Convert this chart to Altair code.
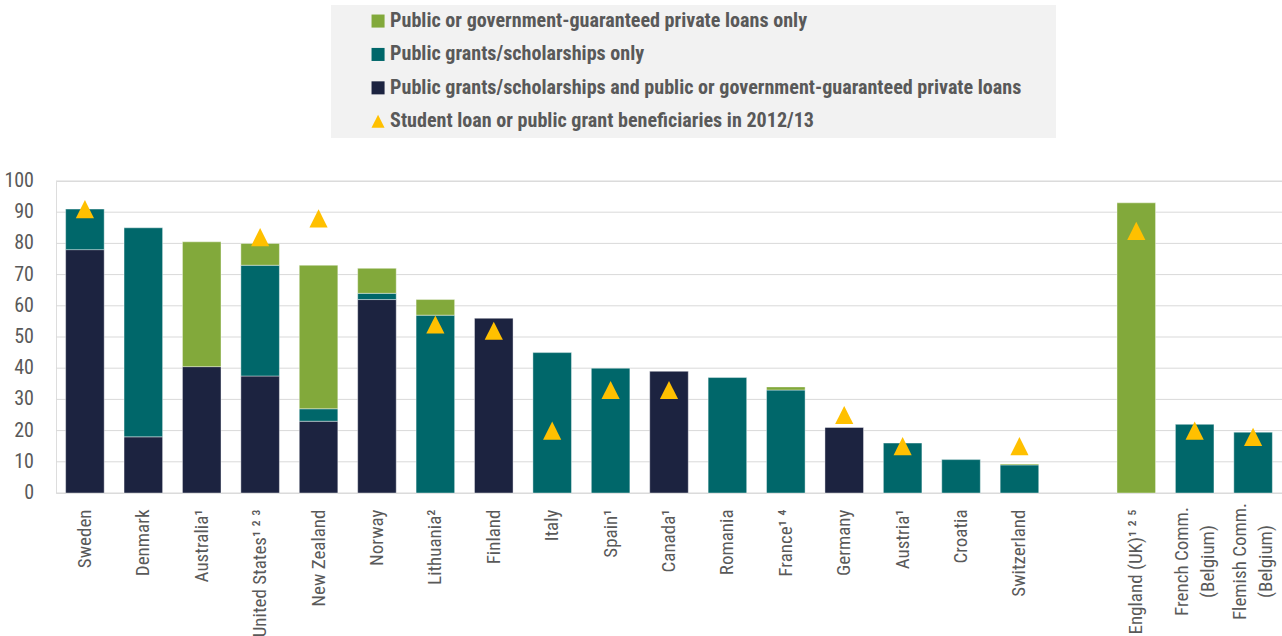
import altair as alt
import pandas as pd

countries = ["Sweden", "Denmark", "Australia¹", "United States¹ ² ³", "New Zealand", "Norway",
             "Lithuania²", "Finland", "Italy", "Spain¹", "Canada¹", "Romania", "France¹ ⁴",
             "Germany", "Austria¹", "Croatia", "Switzerland", " ",
             "England (UK)¹ ² ⁵", "French Comm.|(Belgium)", "Flemish Comm.|(Belgium)"]

series = ["Public or government-guaranteed private loans only",
          "Public grants/scholarships only",
          "Public grants/scholarships and public or government-guaranteed private loans",
          "Student loan or public grant beneficiaries in 2012/13"]
colors = ["#82A93B", "#00676A", "#1C2340", "#FFC000"]

y_ticks = [0, 10, 20, 30, 40, 50, 60, 70, 80, 90, 100]

# None = no value (gap column or no marker)
both = [78, 18, 40.5, 37.5, 23, 62, 0, 56, 0, 0, 39, 0, 0, 21, 0, 0, 0, None, 0, 0, 0]
grants = [13, 67, 0, 35.5, 4, 2, 57, 0, 45, 40, 0, 37, 33, 0, 16, 10.7, 9, None, 0, 22, 19.5]
loans = [0, 0, 40, 7, 46, 8, 5, 0, 0, 0, 0, 0, 1, 0, 0, 0, 0.3, None, 93, 0, 0]
beneficiaries = [91, None, None, 82, 88, None, 54, 52, 20, 33, 33, None, None, 25, 15, None, 15,
                 None, 84, 20, 18]

rows = []
for i, c in enumerate(countries):
    for order, (s, vals) in enumerate([(series[2], both), (series[1], grants), (series[0], loans)]):
        v = vals[i]
        if v:
            rows.append({"country": c, "series": s, "value": v, "order": order})
bars_df = pd.DataFrame(rows)

pts_df = pd.DataFrame([{"country": c, "series": series[3], "value": v}
                       for c, v in zip(countries, beneficiaries) if v is not None])
grid_df = pd.DataFrame({"value": y_ticks})

NARROW = "Liberation Sans Narrow, Roboto Condensed, sans-serif"
W, H = 1226, 312
MULTI = "indexof(datum.value, '|') >= 0"

x_axis = alt.Axis(labelAngle=270, labelExpr="split(datum.label, '|')",
                  labelFont=NARROW, labelFontSize=19, labelColor="#595959",
                  labelPadding={"condition": {"test": MULTI, "value": 68}, "value": 16},
                  labelAlign={"condition": {"test": MULTI, "value": "center"}, "value": "right"},
                  labelLineHeight=26,
                  labelOffset={"condition": {"test": MULTI, "value": -13}, "value": 0},
                  ticks=False, domain=False, labelLimit=300, grid=False)
x_scale = alt.Scale(domain=countries, paddingInner=0.34, paddingOuter=0.165)
y_scale = alt.Scale(domain=[0, 100], nice=False)
# axis kept silent: grid lines and tick labels are drawn from y_ticks below
y_axis = alt.Axis(labels=False, grid=False, domain=False, ticks=False, title=None)

color_scale = alt.Scale(domain=series, range=colors)
shape_scale = alt.Scale(domain=series, range=["square", "square", "square", "M0,-1L1,1L-1,1Z"])

legend = alt.Legend(title=".", titleOrient="right", titleColor="#f2f2f2", titleFontSize=2,
                    titlePadding=28,
                    orient="none", legendX=275, legendY=-176,
                    fillColor="#f2f2f2", padding=6, symbolOffset=31, symbolSize=170,
                    labelFont=NARROW, labelFontWeight="bold", labelFontSize=20.1,
                    labelColor="#595959", labelOffset=2, rowPadding=12.4, labelLimit=1000,
                    symbolStrokeWidth=0)

grid = alt.Chart(grid_df).mark_rule(color="#d9d9d9", strokeWidth=1).encode(
    y=alt.Y("value:Q", scale=y_scale, axis=y_axis, title=None),
    x=alt.value(0), x2=alt.value(W),
)
ylabels = alt.Chart(grid_df).mark_text(
    align="right", baseline="middle", font=NARROW, fontSize=20, color="#595959", dx=-22
).encode(
    y=alt.Y("value:Q", scale=y_scale, axis=y_axis, title=None),
    x=alt.value(0),
    text=alt.Text("value:Q"),
)

bars = alt.Chart(bars_df).mark_bar(stroke="#ffffff", strokeWidth=0.8, strokeOpacity=0.5).encode(
    x=alt.X("country:N", title=None, scale=x_scale, axis=x_axis),
    y=alt.Y("value:Q", stack="zero", title=None, scale=y_scale, axis=y_axis),
    color=alt.Color("series:N", scale=color_scale, legend=legend),
    order=alt.Order("order:Q"),
)

points = alt.Chart(pts_df).mark_point(filled=True, opacity=1, size=330).encode(
    x=alt.X("country:N", title=None, scale=x_scale, axis=x_axis),
    y=alt.Y("value:Q", title=None, scale=y_scale, axis=y_axis),
    color=alt.Color("series:N", scale=color_scale, legend=legend),
    shape=alt.Shape("series:N", scale=shape_scale, legend=legend),
)

chart = alt.layer(grid, ylabels, bars, points).properties(
    width=W, height=H,
    autosize=alt.AutoSizeParams(type="none"),
    padding={"left": 56, "top": 181, "right": 0, "bottom": 143},
).configure_view(stroke=None).configure(font="Open Sans")

chart.save("out.html", embed_options={"renderer": "svg", "actions": False})
